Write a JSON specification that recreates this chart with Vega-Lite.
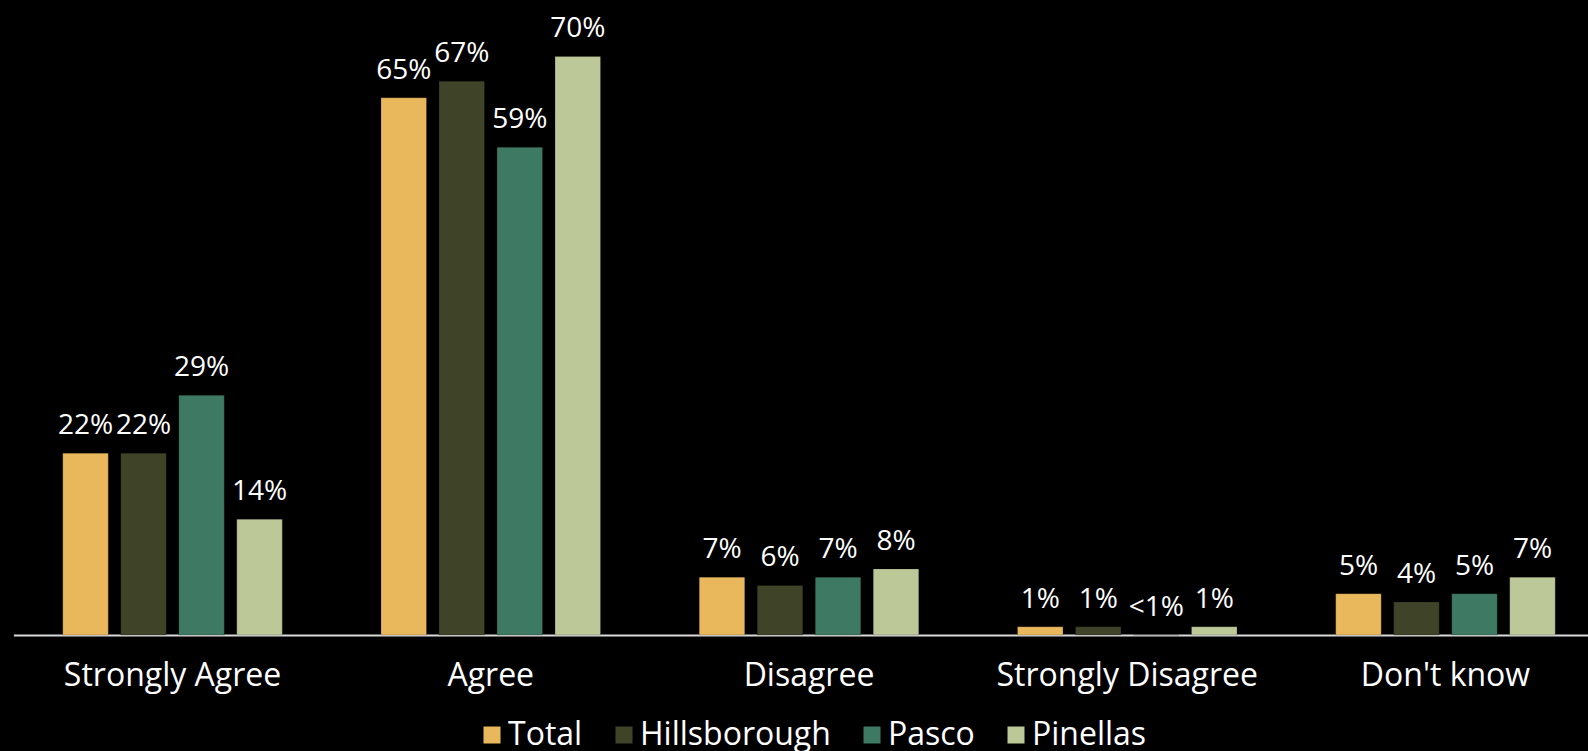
{
  "$schema": "https://vega.github.io/schema/vega-lite/v6.json",
  "width": 1588,
  "height": 635,
  "autosize": {"type": "none"},
  "padding": {"left": 0, "top": 0, "right": 0, "bottom": 116},
  "background": "#000000",
  "config": {
    "view": {"stroke": null},
    "font": "Open Sans"
  },
  "data": {
    "values": [
      {"response": "Strongly Agree", "group": "Total", "value": 22, "label": "22%"},
      {"response": "Strongly Agree", "group": "Hillsborough", "value": 22, "label": "22%"},
      {"response": "Strongly Agree", "group": "Pasco", "value": 29, "label": "29%"},
      {"response": "Strongly Agree", "group": "Pinellas", "value": 14, "label": "14%"},
      {"response": "Agree", "group": "Total", "value": 65, "label": "65%"},
      {"response": "Agree", "group": "Hillsborough", "value": 67, "label": "67%"},
      {"response": "Agree", "group": "Pasco", "value": 59, "label": "59%"},
      {"response": "Agree", "group": "Pinellas", "value": 70, "label": "70%"},
      {"response": "Disagree", "group": "Total", "value": 7, "label": "7%"},
      {"response": "Disagree", "group": "Hillsborough", "value": 6, "label": "6%"},
      {"response": "Disagree", "group": "Pasco", "value": 7, "label": "7%"},
      {"response": "Disagree", "group": "Pinellas", "value": 8, "label": "8%"},
      {"response": "Strongly Disagree", "group": "Total", "value": 1, "label": "1%"},
      {"response": "Strongly Disagree", "group": "Hillsborough", "value": 1, "label": "1%"},
      {"response": "Strongly Disagree", "group": "Pasco", "value": 0, "label": "<1%"},
      {"response": "Strongly Disagree", "group": "Pinellas", "value": 1, "label": "1%"},
      {"response": "Don't know", "group": "Total", "value": 5, "label": "5%"},
      {"response": "Don't know", "group": "Hillsborough", "value": 4, "label": "4%"},
      {"response": "Don't know", "group": "Pasco", "value": 5, "label": "5%"},
      {"response": "Don't know", "group": "Pinellas", "value": 7, "label": "7%"}
    ]
  },
  "encoding": {
    "x": {
      "field": "response",
      "type": "nominal",
      "sort": ["Strongly Agree", "Agree", "Disagree", "Strongly Disagree", "Don't know"],
      "scale": {"range": [13.4, 1604.6], "paddingInner": 0, "paddingOuter": 0},
      "axis": {
        "title": null,
        "labelAngle": 0,
        "labelFontSize": 32,
        "labelColor": "#ffffff",
        "labelBaseline": "alphabetic",
        "labelPadding": 50,
        "labelLimit": 0,
        "ticks": false,
        "tickSize": 0,
        "domainColor": "#d9d9d9",
        "domainWidth": 2,
        "grid": false
      }
    },
    "xOffset": {
      "field": "group",
      "type": "nominal",
      "sort": ["Total", "Hillsborough", "Pasco", "Pinellas"],
      "scale": {"paddingInner": 0.2155, "paddingOuter": 0.851}
    },
    "y": {
      "field": "value",
      "type": "quantitative",
      "scale": {"domain": [0, 76.83]},
      "axis": null
    }
  },
  "layer": [
    {
      "mark": {"type": "bar", "stroke": "#000000", "strokeOpacity": 0.2, "strokeWidth": 1},
      "encoding": {
        "color": {
          "field": "group",
          "type": "nominal",
          "scale": {
            "domain": ["Total", "Hillsborough", "Pasco", "Pinellas"],
            "range": ["#E9B85D", "#3F4428", "#3D7963", "#BDC899"]
          },
          "legend": {
            "title": null,
            "orient": "none",
            "direction": "horizontal",
            "legendX": 476,
            "legendY": 719,
            "symbolType": "square",
            "symbolSize": 289,
            "symbolStrokeWidth": 0,
            "labelFontSize": 32,
            "labelColor": "#ffffff",
            "labelOffset": 0,
            "labelLimit": 0,
            "columnPadding": 25,
            "padding": 0
          }
        }
      }
    },
    {
      "mark": {"type": "text", "color": "#ffffff", "fontSize": 28, "baseline": "alphabetic", "dy": -19},
      "encoding": {
        "text": {"field": "label", "type": "nominal"}
      }
    }
  ]
}
